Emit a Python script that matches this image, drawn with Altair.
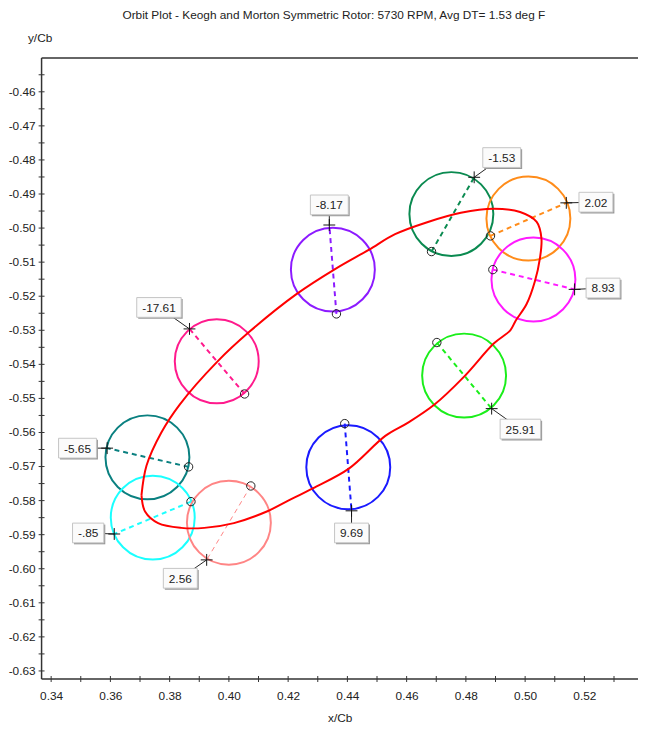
import altair as alt
import pandas as pd

TITLE = "Orbit Plot - Keogh and Morton Symmetric Rotor: 5730 RPM, Avg DT= 1.53 deg F"
FONT = "Liberation Sans"

# red orbit (x/Cb, y/Cb), closed loop
orbit_x = [0.3705, 0.3717, 0.3761, 0.3839, 0.3917, 0.4017, 0.4128, 0.4194, 0.4283,
           0.4405, 0.4528, 0.4605, 0.4694, 0.4794, 0.4894, 0.4950, 0.4968, 0.5005,
           0.5033, 0.5050, 0.5055, 0.5039, 0.4983, 0.4894, 0.4783, 0.4672, 0.4561,
           0.4472, 0.4361, 0.4228, 0.4067, 0.3961, 0.3834, 0.3772, 0.3722, 0.3705]
orbit_y = [-0.5784, -0.5832, -0.5866, -0.5880, -0.5880, -0.5866, -0.5832, -0.5803, -0.5764,
           -0.5706, -0.5610, -0.5571, -0.5518, -0.5436, -0.5339, -0.5300, -0.5272, -0.5223,
           -0.5156, -0.5088, -0.5030, -0.4982, -0.4953, -0.4943, -0.4955, -0.4982, -0.5018,
           -0.5064, -0.5119, -0.5194, -0.5306, -0.5392, -0.5518, -0.5600, -0.5697, -0.5784]

# probe circles
labels   = ["-1.53", "2.02", "8.93", "-8.17", "-17.61", "-5.65", "-.85", "2.56", "9.69", "25.91"]
colors   = ["#0a8a50", "#ff8c1a", "#ff1aff", "#8c1aff", "#ff1a8c", "#0a8080", "#1affff",
            "#ff8585", "#1a1aff", "#1aee1a"]
center_x = [0.4751, 0.5011, 0.5028, 0.4351, 0.3959, 0.3725, 0.3743, 0.4000, 0.4403, 0.4794]
center_y = [-0.4959, -0.4972, -0.5151, -0.5122, -0.5391, -0.5673, -0.5850, -0.5865, -0.5702, -0.5433]
plus_x   = [0.4828, 0.5139, 0.5167, 0.4339, 0.3867, 0.3589, 0.3613, 0.3925, 0.4414, 0.4887]
plus_y   = [-0.4851, -0.4926, -0.5180, -0.4991, -0.5296, -0.5646, -0.5898, -0.5974, -0.5830, -0.5530]
open_x   = [0.4684, 0.4883, 0.4891, 0.4363, 0.4053, 0.3864, 0.3872, 0.4074, 0.4391, 0.4702]
open_y   = [-0.5069, -0.5023, -0.5122, -0.5252, -0.5487, -0.5701, -0.5803, -0.5757, -0.5574, -0.5336]
label_x  = [0.4921, 0.5239, 0.5263, 0.4339, 0.3764, 0.3489, 0.3525, 0.3836, 0.4414, 0.4984]
label_y  = [-0.4793, -0.4924, -0.5176, -0.4932, -0.5233, -0.5646, -0.5895, -0.6028, -0.5895, -0.5590]

# axes: labelled (major) and tick-only (minor) values
x_major = [0.34, 0.36, 0.38, 0.40, 0.42, 0.44, 0.46, 0.48, 0.50, 0.52]
x_minor = [0.35, 0.37, 0.39, 0.41, 0.43, 0.45, 0.47, 0.49, 0.51, 0.53]
y_major = [-0.46, -0.47, -0.48, -0.49, -0.50, -0.51, -0.52, -0.53, -0.54,
           -0.55, -0.56, -0.57, -0.58, -0.59, -0.60, -0.61, -0.62, -0.63]
y_minor = [-0.455, -0.465, -0.475, -0.485, -0.495, -0.505, -0.515, -0.525, -0.535,
           -0.545, -0.555, -0.565, -0.575, -0.585, -0.595, -0.605, -0.615, -0.625]
y_labels = ["-0.46", "-0.47", "-0.48", "-0.49", "-0.50", "-0.51", "-0.52", "-0.53", "-0.54",
            "-0.55", "-0.56", "-0.57", "-0.58", "-0.59", "-0.60", "-0.61", "-0.62", "-0.63"]
x_domain = [0.33677, 0.53810]
y_domain = [-0.63238, -0.45006]

W, H = 604, 629

CW = {"-": 3.996, ".": 3.336}


def box_path(t):
    w = sum(CW.get(c, 6.674) for c in t) + 11
    a = w / 20.0
    return f"M{-a:.3f},-1H{a:.3f}V1H{-a:.3f}Z"


probes = pd.DataFrame({
    "label": labels, "cx": center_x, "cy": center_y,
    "px": plus_x, "py": plus_y, "ox": open_x, "oy": open_y,
    "lx": label_x, "ly": label_y,
})
probes["box"] = [box_path(t) for t in labels]
orbit = pd.DataFrame({"x": orbit_x, "y": orbit_y, "i": list(range(len(orbit_x)))})
xt = pd.DataFrame({"v": x_major + x_minor, "edge": y_domain[0]})
yt = pd.DataFrame({"v": y_major + y_minor, "edge": x_domain[0]})
yl = pd.DataFrame({"v": y_major, "t": y_labels, "edge": x_domain[0]})

xs = alt.Scale(domain=x_domain, nice=False, zero=False)
ys = alt.Scale(domain=y_domain, nice=False, zero=False)
cscale = alt.Scale(domain=labels, range=colors)

x_axis = alt.Axis(
    values=x_major, domain=False, ticks=False, tickSize=0, grid=False, format=".2f",
    labelOverlap=False, labelBound=False, labelFlush=False,
    labelPadding=12, labelFont=FONT, labelFontSize=12, labelColor="#222",
    title="x/Cb", titleFont=FONT, titleFontSize=12, titleFontWeight="normal", titleColor="#222",
    titleBaseline="alphabetic", titleY=43,
)
y_axis = alt.Axis(
    values=y_major, domain=False, ticks=False, tickSize=0, grid=False, labels=False,
    title="y/Cb", titleFont=FONT, titleFontSize=12, titleFontWeight="normal", titleColor="#222",
    titleAngle=0, titleAlign="center", titleBaseline="middle", titleX=-2, titleY=-21,
)

base = alt.Chart(probes)

circles = base.mark_point(shape="circle", size=7225, filled=False, strokeWidth=2, opacity=1).encode(
    x=alt.X("cx:Q", scale=xs, axis=x_axis),
    y=alt.Y("cy:Q", scale=ys, axis=y_axis),
    color=alt.Color("label:N", scale=cscale, legend=None),
)

dashes = base.mark_rule(strokeDash=[5, 4]).encode(
    x="ox:Q", y="oy:Q", x2="px:Q", y2="py:Q",
    color=alt.Color("label:N", scale=cscale, legend=None),
    strokeWidth=alt.condition("datum.label == '2.56'", alt.value(1), alt.value(2)),
)

orbit_line = alt.Chart(orbit).mark_line(color="#ff0000", strokeWidth=2, interpolate="catmull-rom").encode(
    x="x:Q", y="y:Q", order="i:Q",
)

open_pts = base.mark_point(shape="circle", size=72, filled=False, color="#222", strokeWidth=1, opacity=1).encode(
    x="ox:Q", y="oy:Q",
)

leaders = base.mark_rule(color="#222", strokeWidth=1).encode(
    x="px:Q", y="py:Q", x2="lx:Q", y2="ly:Q",
)

plus_pts = base.mark_point(shape="M-1,0H1M0,-1V1", size=144, filled=False, color="#111", strokeWidth=1, opacity=1).encode(
    x="px:Q", y="py:Q",
)

shadows = base.mark_point(size=400, filled=True, color="#9a9a9a", xOffset=1.5, yOffset=1.5, opacity=1, strokeWidth=0).encode(
    x="lx:Q", y="ly:Q", shape=alt.Shape("box:N", scale=None, legend=None),
)
boxes = base.mark_point(size=400, filled=True, fill="#fbfbfb", stroke="#c4c4c4", strokeWidth=1, opacity=1, fillOpacity=1).encode(
    x="lx:Q", y="ly:Q", shape=alt.Shape("box:N", scale=None, legend=None),
)
texts = base.mark_text(font=FONT, fontSize=12, color="#222", align="center", baseline="middle", dy=0.5).encode(
    x="lx:Q", y="ly:Q", text="label:N",
)

# crossing tick marks on both axes
x_tick_marks = alt.Chart(xt).mark_tick(orient="vertical", size=6, thickness=1, color="#333", opacity=1).encode(
    x="v:Q", y="edge:Q")
y_tick_marks = alt.Chart(yt).mark_tick(orient="horizontal", size=6, thickness=1, color="#333", opacity=1).encode(
    y="v:Q", x="edge:Q")
y_tick_labels = alt.Chart(yl).mark_text(font=FONT, fontSize=12, color="#222", align="right",
                                        baseline="middle", dx=-6).encode(
    y="v:Q", x="edge:Q", text="t:N")

one = pd.DataFrame({"k": [0]})
frame_top = alt.Chart(one).mark_rule(color="#333", strokeWidth=1.5).encode(
    x=alt.value(0), x2=alt.value(W), y=alt.value(0))
frame_left = alt.Chart(one).mark_rule(color="#333", strokeWidth=1.5).encode(
    x=alt.value(0), y=alt.value(0), y2=alt.value(H))
frame_bottom = alt.Chart(one).mark_rule(color="#333", strokeWidth=1.5).encode(
    x=alt.value(0), x2=alt.value(W), y=alt.value(H))

chart = alt.layer(
    circles, dashes, orbit_line, open_pts, leaders, plus_pts, shadows, boxes, texts,
    x_tick_marks, y_tick_marks, y_tick_labels, frame_top, frame_left, frame_bottom,
).properties(
    width=W, height=H,
    autosize=alt.AutoSizeParams(type="none"),
    padding={"left": 34, "top": 46, "right": 0, "bottom": 45},
    title=alt.TitleParams(TITLE, font=FONT, fontSize=12, fontWeight="normal", color="#222",
                          anchor="middle", frame="group", offset=9, dx=-6),
    background="white",
).configure_view(strokeWidth=0)

chart.save("out.html", embed_options={"renderer": "svg", "actions": False})
